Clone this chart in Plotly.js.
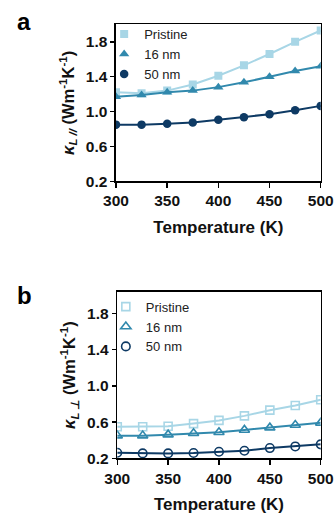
<!DOCTYPE html>
<html>
<head>
<meta charset="utf-8">
<script src="https://cdn.plot.ly/plotly-3.0.1.min.js"></script>
<style>html,body{margin:0;padding:0;background:#fff;}#chart{width:336px;height:518px;}</style>
</head>
<body>
<div id="chart"></div>
<script>
// Data
var temperature = [300, 325, 350, 375, 400, 425, 450, 475, 500];
var seriesNames = ["Pristine", "16 nm", "50 nm"];
var kParPristine = [1.22, 1.21, 1.24, 1.31, 1.41, 1.53, 1.66, 1.80, 1.93];
var kPar16nm     = [1.17, 1.19, 1.22, 1.24, 1.28, 1.335, 1.40, 1.465, 1.52];
var kPar50nm     = [0.85, 0.85, 0.86, 0.875, 0.905, 0.935, 0.97, 1.015, 1.065];
var kPerpPristine = [0.55, 0.55, 0.555, 0.585, 0.62, 0.67, 0.733, 0.785, 0.848];
var kPerp16nm     = [0.452, 0.452, 0.463, 0.478, 0.489, 0.515, 0.54, 0.57, 0.593];
var kPerp50nm     = [0.263, 0.256, 0.256, 0.26, 0.274, 0.285, 0.315, 0.333, 0.356];
var xTicks = [300, 350, 400, 450, 500];
var yTicks = [0.2, 0.6, 1.0, 1.4, 1.8];
var yTickText = ["0.2", "0.6", "1.0", "1.4", "1.8"];

var colors = ["#a8d6e6", "#3189ad", "#0e3a64"];
var symbolsA = ["square", "triangle-up", "circle"];
var symbolsB = ["square-open", "triangle-up-open", "circle-open"];
var sizes = [8, 9, 8.5];

var dataA = [kParPristine, kPar16nm, kPar50nm];
var dataB = [kPerpPristine, kPerp16nm, kPerp50nm];
var traces = [];

function addSeries(vals, i, xa, ya, sym, legendName, open) {
  traces.push({x: temperature, y: vals, xaxis: xa, yaxis: ya, mode: "lines",
    line: {color: colors[i], width: 2}, showlegend: false, hoverinfo: "skip"});
  traces.push({x: temperature, y: vals, xaxis: xa, yaxis: ya, mode: "markers",
    name: seriesNames[i], legend: legendName,
    marker: {symbol: sym, size: sizes[i], color: colors[i],
      line: {color: colors[i], width: open ? 1.6 : 0}}});
}
for (var i = 0; i < 3; i++) addSeries(dataA[i], i, "x", "y", symbolsA[i], "legend", false);
for (var j = 0; j < 3; j++) addSeries(dataB[j], j, "x2", "y2", symbolsB[j], "legend2", true);

var fontFam = "Liberation Sans, Arial, sans-serif";
function xax(domain, anchor) {
  return {domain: domain, anchor: anchor, range: [300, 500], tickvals: xTicks,
    showline: true, mirror: true, linecolor: "#000", linewidth: 1.5,
    ticks: "outside", ticklen: 5, tickwidth: 1.5, tickcolor: "#000",
    showgrid: false, zeroline: false,
    tickfont: {family: fontFam, size: 15.5, color: "#111", weight: "bold"},
    title: {text: "<b>Temperature (K)</b>", font: {family: fontFam, size: 17, color: "#111"}, standoff: 12}};
}
function yax(domain, anchor, top, titleText) {
  return {domain: domain, anchor: anchor, range: [0.2, top], tickvals: yTicks, ticktext: yTickText,
    showline: true, mirror: true, linecolor: "#000", linewidth: 1.5,
    ticks: "outside", ticklen: 4, tickwidth: 1.5, tickcolor: "#000",
    showgrid: false, zeroline: false,
    tickfont: {family: fontFam, size: 15.5, color: "#111", weight: "bold"},
    title: {text: titleText, font: {family: fontFam, size: 16.5, color: "#111"}, standoff: 7}};
}

var layout = {
  width: 336, height: 518,
  margin: {l: 0, r: 0, t: 0, b: 0},
  paper_bgcolor: "#fff", plot_bgcolor: "#fff",
  showlegend: true,
  xaxis: xax([0.3452, 0.9545], "y"),
  yaxis: yax([0.650, 0.953], "x", 2.0, "<b><i>κ</i><sub><i>L //</i></sub> (Wm<sup>-1</sup>K<sup>-1</sup>)</b>"),
  xaxis2: xax([0.349, 0.9545], "y2"),
  yaxis2: yax([0.1149, 0.4369], "x2", 2.04, "<b><i>κ</i><sub><i>L ⊥</i></sub> (Wm<sup>-1</sup>K<sup>-1</sup>)</b>"),
  legend: {x: 0.31, y: 0.963, xanchor: "left", yanchor: "top", bgcolor: "rgba(0,0,0,0)",
    font: {family: fontFam, size: 13, color: "#222"}, tracegroupgap: 0, itemwidth: 30},
  legend2: {x: 0.315, y: 0.437, xanchor: "left", yanchor: "top", bgcolor: "rgba(0,0,0,0)",
    font: {family: fontFam, size: 13, color: "#222"}, tracegroupgap: 0, itemwidth: 30},
  annotations: [
    {text: "<b>a</b>", xref: "paper", yref: "paper", x: 0.045, y: 0.959, xanchor: "left", yanchor: "middle",
      showarrow: false, font: {family: fontFam, size: 24, color: "#000"}},
    {text: "<b>b</b>", xref: "paper", yref: "paper", x: 0.045, y: 0.43, xanchor: "left", yanchor: "middle",
      showarrow: false, font: {family: fontFam, size: 24, color: "#000"}}
  ]
};

Plotly.newPlot("chart", traces, layout, {staticPlot: true, displayModeBar: false});
</script>
</body>
</html>
